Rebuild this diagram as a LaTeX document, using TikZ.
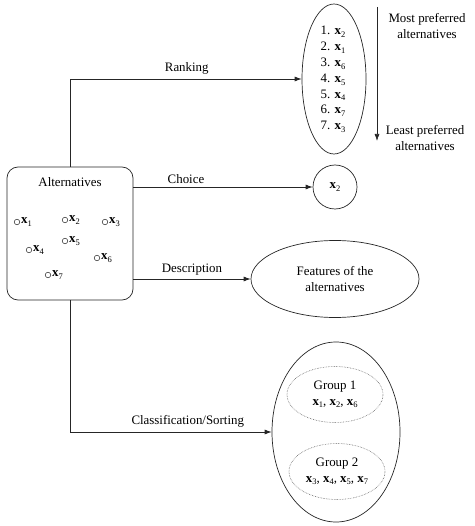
\documentclass[tikz,border=0pt]{standalone}
\usepackage{fontspec}
\setmainfont{Liberation Serif}
\usetikzlibrary{shapes.geometric,arrows.meta}
\newcommand{\xv}[1]{\textbf{x}\raisebox{-0.45ex}{\fontsize{8.5}{9}\selectfont #1}}
\begin{document}
\begin{tikzpicture}[x=1pt,y=-1pt,
  every node/.style={font=\fontsize{12.9}{15.8}\selectfont, text=black},
  ln/.style={line width=0.7pt, draw=black!85},
  arr/.style={ln, -{Latex[length=7pt,width=5pt]}},
  ell/.style={ellipse, ln, inner sep=0pt},
  grp/.style={ellipse, draw=black!60, densely dotted, line width=0.6pt, inner sep=0pt, minimum width=96pt, minimum height=56pt, align=center},
  pt/.style={circle, draw=black!85, line width=0.5pt, inner sep=0pt, minimum size=5.5pt}]
\useasboundingbox (0,0) rectangle (474,526);
% Alternatives box
\node[draw=black!85, line width=0.7pt, rounded corners=11pt, minimum width=126pt, minimum height=133pt] (alt) at (70,233.5) {};
\node (altlab) at (70,182) {Alternatives};
\node[pt] (p1) at (17,222) {}; \node[anchor=west, inner sep=1pt] (l1) at (p1.east) {\xv{1}};
\node[pt] (p2) at (65,220) {}; \node[anchor=west, inner sep=1pt] (l2) at (p2.east) {\xv{2}};
\node[pt] (p3) at (105,222) {}; \node[anchor=west, inner sep=1pt] (l3) at (p3.east) {\xv{3}};
\node[pt] (p4) at (29,250) {}; \node[anchor=west, inner sep=1pt] (l4) at (p4.east) {\xv{4}};
\node[pt] (p5) at (65,241) {}; \node[anchor=west, inner sep=1pt] (l5) at (p5.east) {\xv{5}};
\node[pt] (p6) at (97,258) {}; \node[anchor=west, inner sep=1pt] (l6) at (p6.east) {\xv{6}};
\node[pt] (p7) at (48,275) {}; \node[anchor=west, inner sep=1pt] (l7) at (p7.east) {\xv{7}};
% Ranking ellipse
\node[ell, minimum width=64pt, minimum height=150pt] (rank) at (334,79) {};
\node[align=center] (ranklist) at (333,79.5) {1. \xv{2}\\2. \xv{1}\\3. \xv{6}\\4. \xv{5}\\5. \xv{4}\\6. \xv{7}\\7. \xv{3}};
% preference arrow
\coordinate (ptop) at (377,7);
\coordinate (pbot) at (377,141);
\draw[arr] (ptop) -- (pbot);
\node[align=center] (most) at (427,26) {Most preferred\\alternatives};
\node[align=center] (least) at (425,138) {Least preferred\\alternatives};
% Choice
\node[circle, ln, minimum size=44pt, inner sep=0pt] (choice) at (335,187) {\xv{2}};
% Features
\node[ell, minimum width=168pt, minimum height=77pt, align=center] (feat) at (335,279) {Features of the\\alternatives};
% Classification
\node[ell, minimum width=128pt, minimum height=180pt] (cls) at (336,432) {};
\node[grp] (g1) at (335,394.5) {Group 1\\\xv{1}, \xv{2}, \xv{6}};
\node[grp] (g2) at (337,471.5) {Group 2\\\xv{3}, \xv{4}, \xv{5}, \xv{7}};
% connectors
\draw[arr] (alt.north) |- node[pos=0.752, above, yshift=1pt] {Ranking} (rank.west);
\draw[arr] (alt.east |- choice.west) -- node[above, xshift=-37pt] {Choice} (choice.west);
\draw[arr] (alt.east |- feat.west) -- node[above] {Description} (feat.west);
\draw[arr] (alt.south) |- node[pos=0.792, above, yshift=1pt] {Classification/Sorting} (cls.west);
\end{tikzpicture}
\end{document}
